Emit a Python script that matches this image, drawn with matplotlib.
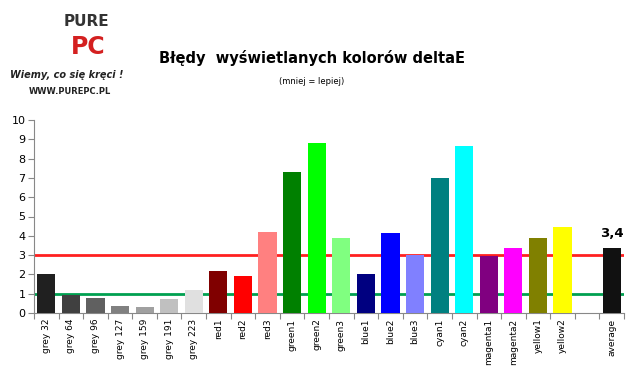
import numpy as np
import matplotlib
matplotlib.use('Agg')
import matplotlib.pyplot as plt

# colour patches, values
categories = ['grey 32', 'grey 64', 'grey 96', 'grey 127', 'grey 159', 'grey 191', 'grey 223',
              'red1', 'red2', 'red3', 'green1', 'green2', 'green3',
              'blue1', 'blue2', 'blue3', 'cyan1', 'cyan2',
              'magenta1', 'magenta2', 'yellow1', 'yellow2', '', 'average']
delta_e = [2.04, 0.95, 0.80, 0.38, 0.33, 0.74, 1.21,
           2.20, 1.94, 4.22, 7.28, 8.81, 3.91,
           2.04, 4.17, 3.03, 6.97, 8.63,
           2.94, 3.39, 3.91, 4.48, np.nan, 3.39]
bar_colors = ['#202020', '#404040', '#606060', '#808080', '#a0a0a0', '#c0c0c0', '#e0e0e0',
              '#800000', '#ff0000', '#ff8080', '#008000', '#00ff00', '#80ff80',
              '#000080', '#0000ff', '#8080ff', '#008080', '#00ffff',
              '#800080', '#ff00ff', '#808000', '#ffff00', '#ffffff', '#111111']
average_label = '3,4'
limit_good = 1
limit_ok = 3

fig = plt.figure(figsize=(6.39, 3.79), dpi=100)
ax = fig.add_axes([34 / 639, 1 - 313 / 379, 590 / 639, 193 / 379])

x = np.arange(len(categories))
ax.bar(x, delta_e, width=0.74, color=bar_colors, zorder=3)
ax.axhline(limit_ok, color='#ff2020', lw=2, zorder=2)
ax.axhline(limit_good, color='#00a050', lw=2, zorder=2)
ax.text(x[-1], delta_e[-1] + 0.4, average_label, ha='center', va='bottom',
        fontsize=9.5, fontweight='bold')

ax.set_xlim(-0.5, len(categories) - 0.5)
ax.set_ylim(0, 10)
ax.set_yticks(range(0, 11))
ax.set_xticks(np.arange(len(categories) + 1) - 0.5, minor=False)
ax.set_xticklabels([])
ax.set_xticks(x, minor=True)
ax.set_xticklabels(categories, minor=True, rotation=90, fontsize=6.5, va='top')
ax.tick_params(axis='x', which='minor', length=0, pad=4)
ax.tick_params(axis='x', which='major', length=4, color='#888888')
ax.tick_params(axis='y', length=4, color='#888888', labelsize=8, pad=2)
for s in ['top', 'right']:
    ax.spines[s].set_visible(False)
for s in ['left', 'bottom']:
    ax.spines[s].set_color('#888888')

fig.text(0.488, 1 - 58 / 379, 'Błędy  wyświetlanych kolorów deltaE', ha='center', va='center',
         fontsize=10.5, fontweight='bold')
fig.text(0.488, 1 - 81 / 379, '(mniej = lepiej)', ha='center', va='center', fontsize=6)

# rough text stand-in for the logo
fig.text(0.136, 1 - 21 / 379, 'PURE', ha='center', va='center', fontsize=11,
         fontweight='bold', color='#333333')
fig.text(0.138, 1 - 47 / 379, 'PC', ha='center', va='center', fontsize=17,
         fontweight='bold', color='#d42020')
fig.text(0.105, 1 - 75 / 379, 'Wiemy, co się kręci !', ha='center', va='center',
         fontsize=7, fontweight='bold', style='italic', color='#222222')
fig.text(0.11, 1 - 92 / 379, 'WWW.PUREPC.PL', ha='center', va='center',
         fontsize=6, fontweight='bold', color='#222222')

plt.savefig('out.png')
